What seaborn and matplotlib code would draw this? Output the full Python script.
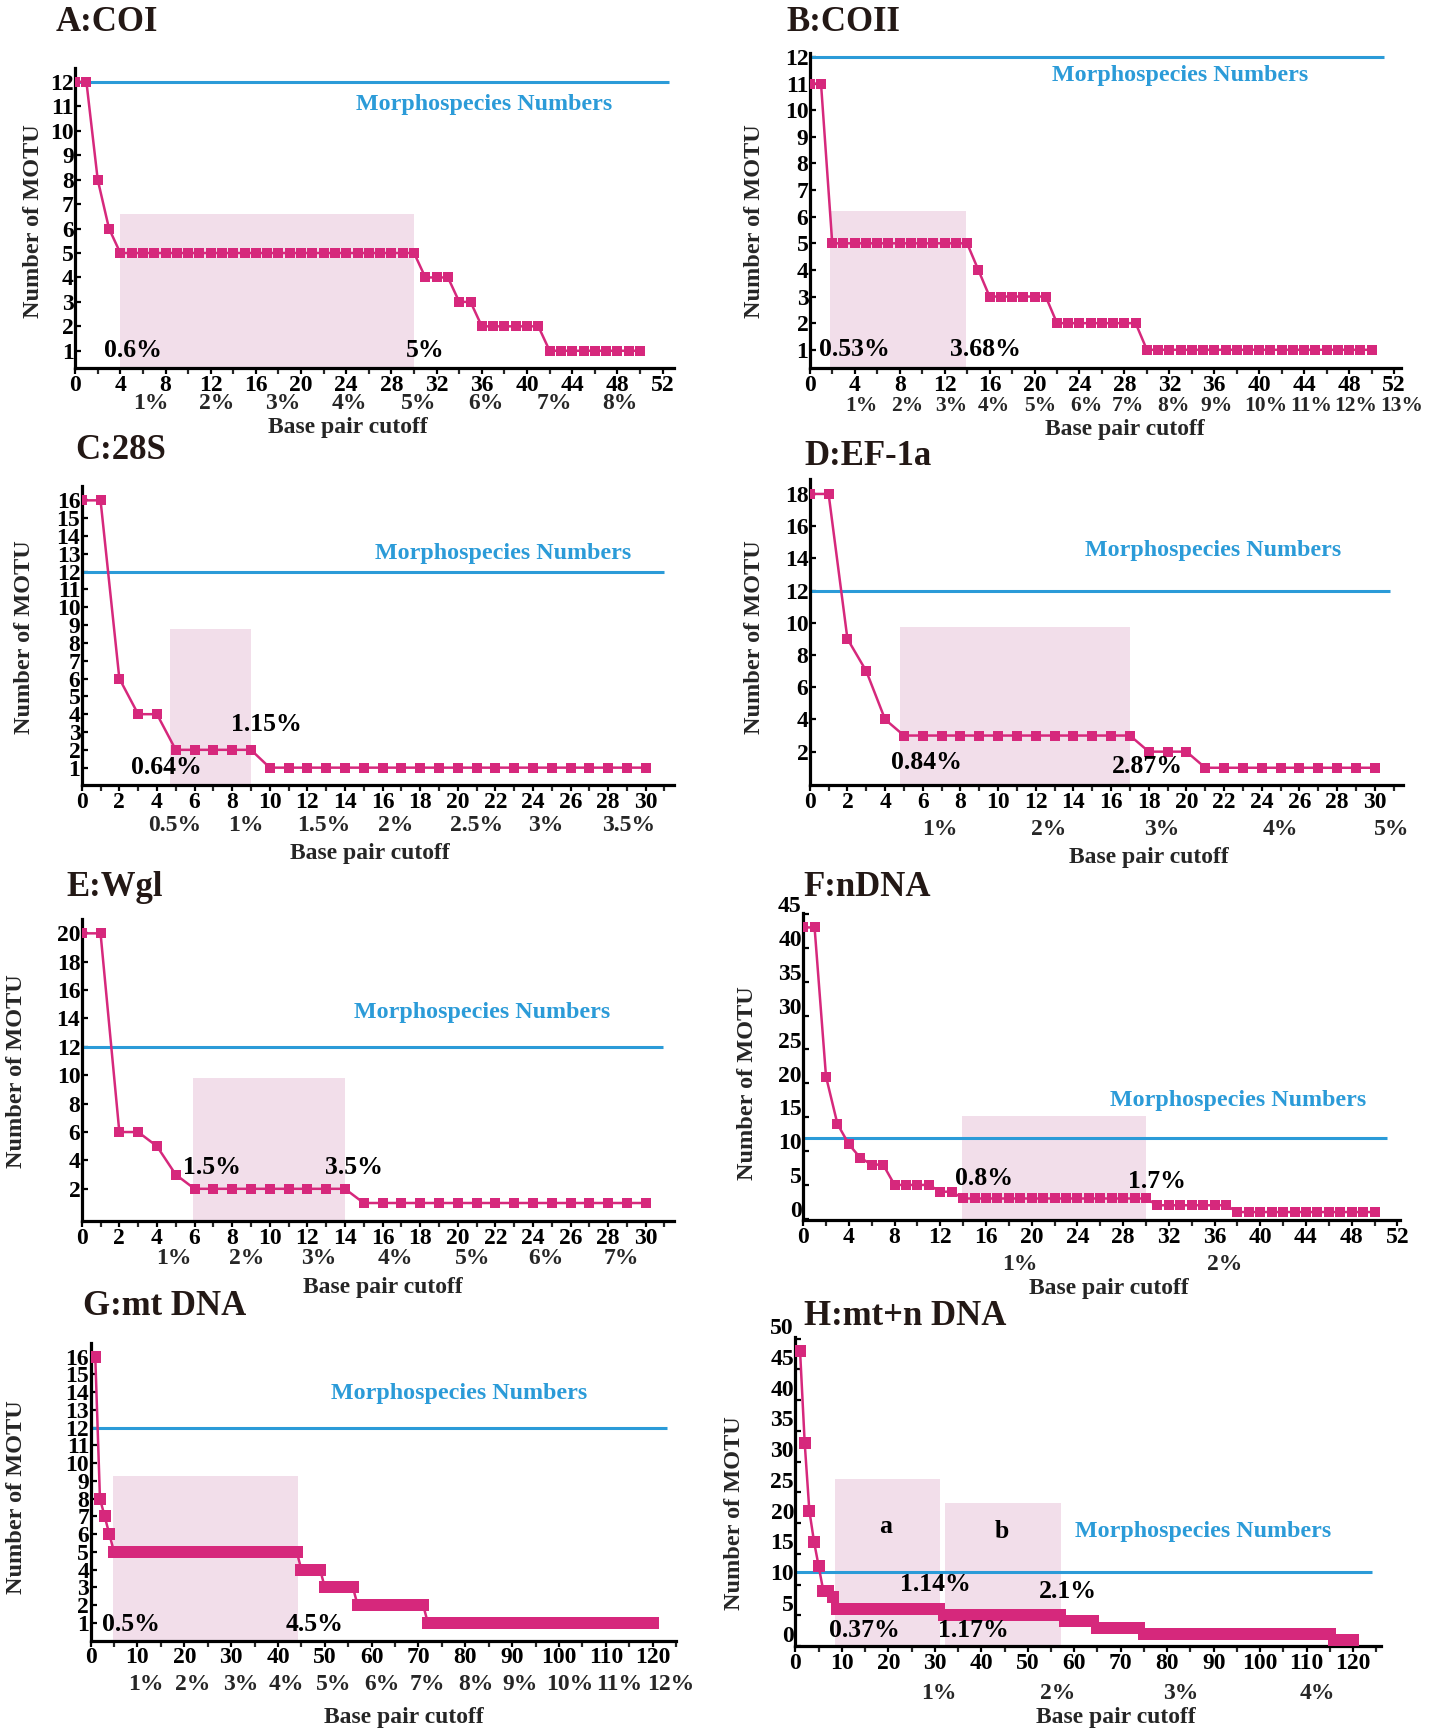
import matplotlib
matplotlib.use("Agg")
import matplotlib.pyplot as plt
import seaborn as sns
import pandas as pd
from matplotlib.transforms import offset_copy, ScaledTranslation
from matplotlib.ticker import MultipleLocator, FixedLocator

# ---------------- data ----------------
cutoff_50 = list(range(51))
cutoff_30 = list(range(31))
cutoff_120 = list(range(121))

motu_A = [12, 12, 8, 6,
          5, 5, 5, 5, 5, 5, 5, 5, 5, 5, 5, 5, 5, 5, 5, 5, 5, 5, 5, 5, 5, 5, 5, 5, 5, 5, 5,
          4, 4, 4, 3, 3, 2, 2, 2, 2, 2, 2, 1, 1, 1, 1, 1, 1, 1, 1, 1]
motu_B = [11, 11, 5, 5, 5, 5, 5, 5, 5, 5, 5, 5, 5, 5, 5, 4, 3, 3, 3, 3, 3, 3,
          2, 2, 2, 2, 2, 2, 2, 2,
          1, 1, 1, 1, 1, 1, 1, 1, 1, 1, 1, 1, 1, 1, 1, 1, 1, 1, 1, 1, 1]
motu_C = [16, 16, 6, 4, 4, 2, 2, 2, 2, 2,
          1, 1, 1, 1, 1, 1, 1, 1, 1, 1, 1, 1, 1, 1, 1, 1, 1, 1, 1, 1, 1]
motu_D = [18, 18, 9, 7, 4, 3, 3, 3, 3, 3, 3, 3, 3, 3, 3, 3, 3, 3, 2, 2, 2,
          1, 1, 1, 1, 1, 1, 1, 1, 1, 1]
motu_E = [20, 20, 6, 6, 5, 3, 2, 2, 2, 2, 2, 2, 2, 2, 2,
          1, 1, 1, 1, 1, 1, 1, 1, 1, 1, 1, 1, 1, 1, 1, 1]
motu_F = [43, 43, 21, 14, 11, 9, 8, 8, 5, 5, 5, 5, 4, 4,
          3, 3, 3, 3, 3, 3, 3, 3, 3, 3, 3, 3, 3, 3, 3, 3, 3,
          2, 2, 2, 2, 2, 2, 2,
          1, 1, 1, 1, 1, 1, 1, 1, 1, 1, 1, 1, 1]
motu_G = [16, 16, 8, 7, 6,
          5, 5, 5, 5, 5, 5, 5, 5, 5, 5, 5, 5, 5, 5, 5, 5, 5, 5, 5, 5,
          5, 5, 5, 5, 5, 5, 5, 5, 5, 5, 5, 5, 5, 5, 5, 5, 5, 5, 5, 5,
          4, 4, 4, 4, 4, 3, 3, 3, 3, 3, 3, 3,
          2, 2, 2, 2, 2, 2, 2, 2, 2, 2, 2, 2, 2, 2, 2,
          1, 1, 1, 1, 1, 1, 1, 1, 1, 1, 1, 1, 1, 1, 1, 1, 1, 1, 1, 1, 1, 1, 1, 1, 1,
          1, 1, 1, 1, 1, 1, 1, 1, 1, 1, 1, 1, 1, 1, 1, 1, 1, 1, 1, 1, 1, 1, 1, 1]
motu_H = [48, 48, 33, 22, 17, 13, 9, 9, 8,
          6, 6, 6, 6, 6, 6, 6, 6, 6, 6, 6, 6, 6, 6, 6, 6, 6, 6, 6, 6, 6, 6, 6,
          5, 5, 5, 5, 5, 5, 5, 5, 5, 5, 5, 5, 5, 5, 5, 5, 5, 5, 5, 5, 5, 5, 5, 5, 5, 5,
          4, 4, 4, 4, 4, 4, 4, 3, 3, 3, 3, 3, 3, 3, 3, 3, 3,
          2, 2, 2, 2, 2, 2, 2, 2, 2, 2, 2, 2, 2, 2, 2, 2, 2, 2, 2, 2, 2,
          2, 2, 2, 2, 2, 2, 2, 2, 2, 2, 2, 2, 2, 2, 2, 2, 2, 2, 2, 2,
          1, 1, 1, 1, 1]

morphospecies = 12

titles = ["A:COI", "B:COII", "C:28S", "D:EF-1a", "E:Wgl", "F:nDNA", "G:mt DNA", "H:mt+n DNA"]

pct_labels_A = ["1%", "2%", "3%", "4%", "5%", "6%", "7%", "8%"]
pct_pos_A = [6.7, 12.5, 18.4, 24.3, 30.4, 36.4, 42.4, 48.2]
pct_labels_B = ["1%", "2%", "3%", "4%", "5%", "6%", "7%", "8%", "9%", "10%", "11%", "12%", "13%"]
pct_pos_B = [4.6, 8.7, 12.6, 16.4, 20.5, 24.6, 28.3, 32.4, 36.2, 40.6, 44.6, 48.6, 52.7]
pct_labels_C = ["0.5%", "1%", "1.5%", "2%", "2.5%", "3%", "3.5%"]
pct_pos_C = [4.95, 8.75, 12.9, 16.7, 21.0, 24.7, 29.1]
pct_labels_D = ["1%", "2%", "3%", "4%", "5%"]
pct_pos_D = [6.9, 12.7, 18.7, 25.0, 30.9]
pct_labels_E = ["1%", "2%", "3%", "4%", "5%", "6%", "7%"]
pct_pos_E = [4.9, 8.8, 12.6, 16.7, 20.8, 24.7, 28.7]
pct_labels_F = ["1%", "2%"]
pct_pos_F = [19.0, 36.9]
pct_labels_G = ["1%", "2%", "3%", "4%", "5%", "6%", "7%", "8%", "9%", "10%", "11%", "12%"]
pct_pos_G = [11.7, 21.8, 32.0, 41.8, 51.9, 62.3, 71.9, 82.2, 91.6, 102.2, 112.8, 123.9]
pct_labels_H = ["1%", "2%", "3%", "4%"]
pct_pos_H = [30.9, 56.4, 82.9, 112.4]

# shaded ranges: (start, end, top)
shade_A = [(4.0, 30.0, 6.6)]
shade_B = [(1.8, 13.9, 6.2)]
shade_C = [(4.7, 9.0, 8.8)]
shade_D = [(4.8, 17.0, 9.75)]
shade_E = [(5.9, 14.0, 9.8)]
shade_F = [(13.9, 30.0, 15.2)]
shade_G = [(4.7, 44.2, 9.25)]
shade_H = [(8.6, 31.2, 27.1), (32.2, 57.1, 23.2)]

# annotations: (text, x, y)
notes_A = [("0.6%", 5.1, 1.0), ("5%", 31.0, 1.0)]
notes_B = [("0.53%", 4.0, 1.0), ("3.68%", 15.6, 1.0)]
notes_C = [("0.64%", 4.5, 1.0), ("1.15%", 9.8, 3.4)]
notes_D = [("0.84%", 6.2, 1.3), ("2.87%", 17.9, 1.05)]
notes_E = [("1.5%", 6.9, 3.5), ("3.5%", 14.5, 3.5)]
notes_F = [("0.8%", 15.8, 5.9), ("1.7%", 31.0, 5.5)]
notes_G = [("0.5%", 8.7, 0.9), ("4.5%", 47.8, 0.9)]
notes_H = [("0.37%", 14.9, 2.5), ("1.17%", 38.4, 2.5), ("1.14%", 30.2, 10.0),
           ("2.1%", 58.7, 8.9), ("a", 19.5, 19.5), ("b", 44.5, 18.7)]

# ---------------- style ----------------
sns.set_theme(style="ticks")
plt.rcParams["font.family"] = ["Liberation Serif", "DejaVu Serif"]
plt.rcParams["font.weight"] = "bold"

PINK = "#D6287C"
BLUE = "#2B9BD8"
SHADE = "#F2DEEA"
DARK = "#231815"

W, H = 1445, 1732
fig = plt.figure(figsize=(W / 100, H / 100), dpi=100)
fig.patch.set_facecolor("white")

S = 1445 / 1308.0  # shrunk->full

TICK_FS = 17
panels = [
    dict(x=cutoff_50, y=motu_A, box=(68, 610, 333, 62), xlim=(0, 53), ylim=(0.3, 12.55),
         xmaj=4, xmin=2, yt=list(range(1, 13)), morph_end=52.6, morph_txt=(36.2, 11.08),
         pct=(pct_pos_A, pct_labels_A), pct_dy=26, shade=shade_A, notes=notes_A,
         title=(50, 20), ylab=(30, 200), xlab=(315, 387), ms=6.5, ylift=0, pct_fs=TICK_FS),
    dict(x=cutoff_50, y=motu_B, box=(733, 1268, 333, 48), xlim=(0, 52.6), ylim=(0.32, 12.15),
         xmaj=4, xmin=2, yt=list(range(1, 13)), morph_end=51.1, morph_txt=(33.0, 11.3),
         pct=(pct_pos_B, pct_labels_B), pct_dy=27.5, shade=shade_B, notes=notes_B,
         title=(712, 20), ylab=(683, 200), xlab=(1018, 389), ms=6.5, ylift=0, pct_fs=15.5),
    dict(x=cutoff_30, y=motu_C, box=(74, 610, 711, 440), xlim=(0, 31.5), ylim=(0, 16.8),
         xmaj=2, xmin=1, yt=list(range(1, 17)), morph_end=30.95, morph_txt=(22.4, 13.0),
         pct=(pct_pos_C, pct_labels_C), pct_dy=29, shade=shade_C, notes=notes_C,
         title=(68, 408), ylab=(22, 577), xlab=(335, 773), ms=6.5, ylift=0, pct_fs=TICK_FS),
    dict(x=cutoff_30, y=motu_D, box=(733, 1270, 711, 434), xlim=(0, 31.5), ylim=(-0.1, 18.9),
         xmaj=2, xmin=1, yt=list(range(2, 19, 2)), morph_end=30.8, morph_txt=(21.4, 14.5),
         pct=(pct_pos_D, pct_labels_D), pct_dy=32, shade=shade_D, notes=notes_D,
         title=(728, 413), ylab=(683, 577), xlab=(1040, 776), ms=6.5, ylift=0, pct_fs=TICK_FS),
    dict(x=cutoff_30, y=motu_E, box=(74, 610, 1105, 832), xlim=(0, 31.5), ylim=(-0.25, 21),
         xmaj=2, xmin=1, yt=list(range(2, 21, 2)), morph_end=30.9, morph_txt=(21.3, 14.4),
         pct=(pct_pos_E, pct_labels_E), pct_dy=27.5, shade=shade_E, notes=notes_E,
         title=(60, 803), ylab=(15, 970), xlab=(347, 1165), ms=6.5, ylift=0, pct_fs=TICK_FS),
    dict(x=cutoff_50, y=motu_F, box=(727, 1267, 1104, 826), xlim=(0, 52.2), ylim=(-0.12, 45.2),
         xmaj=4, xmin=2, yt=list(range(0, 46, 5)), morph_end=51.1, morph_txt=(38.1, 17.4),
         pct=(pct_pos_F, pct_labels_F), pct_dy=32, shade=shade_F, notes=notes_F,
         title=(727, 803), ylab=(677, 980), xlab=(1004, 1166), ms=6.5, ylift=7, pct_fs=TICK_FS),
    dict(x=cutoff_120, y=motu_G, box=(82, 612, 1485, 1216), xlim=(0, 125), ylim=(0, 16.75),
         xmaj=10, xmin=5, yt=list(range(1, 17)), morph_end=123, morph_txt=(78.6, 13.95),
         pct=(pct_pos_G, pct_labels_G), pct_dy=31.5, shade=shade_G, notes=notes_G,
         title=(75, 1183), ylab=(15, 1355), xlab=(366, 1555), ms=9, ylift=0, pct_fs=TICK_FS),
    dict(x=cutoff_120, y=motu_H, box=(720, 1250, 1490, 1210), xlim=(0, 126), ylim=(0, 50.3),
         xmaj=10, xmin=5, yt=list(range(0, 51, 5)), morph_end=124, morph_txt=(87.7, 18.7),
         pct=(pct_pos_H, pct_labels_H), pct_dy=34, shade=shade_H, notes=notes_H,
         title=(728, 1192), ylab=(665, 1370), xlab=(1010, 1555), ms=8.5, ylift=9, pct_fs=TICK_FS),
]

for title, p in zip(titles, panels):
    l, r, b, t = [v * S for v in p["box"]]
    ax = fig.add_axes([l / W, 1 - b / H, (r - l) / W, (b - t) / H])
    ax.set_facecolor("none")
    ax.set_xlim(*p["xlim"])
    ax.set_ylim(*p["ylim"])
    y0 = p["ylim"][0]

    for (xs, xe, top) in p["shade"]:
        ax.fill_between([xs, xe], [y0, y0], [top, top], color=SHADE, lw=0, zorder=0)

    ax.hlines(morphospecies, 0, p["morph_end"], color=BLUE, lw=2.2, zorder=2)
    ax.text(p["morph_txt"][0], p["morph_txt"][1], "Morphospecies Numbers", color=BLUE,
            fontsize=17.3, fontweight="bold", ha="center", va="center", zorder=4)

    df = pd.DataFrame({"cutoff": p["x"], "motu": p["y"]})
    sns.lineplot(data=df, x="cutoff", y="motu", ax=ax, color=PINK, marker="s",
                 markersize=p["ms"], markeredgewidth=0, linewidth=1.8,
                 estimator=None, sort=False, zorder=3)
    ax.set_xlabel("")
    ax.set_ylabel("")

    for (txt, xx, yy) in p["notes"]:
        ax.text(xx, yy, txt, fontsize=18.5, fontweight="bold", color="black",
                ha="center", va="center", zorder=5)

    for side in ("top", "right"):
        ax.spines[side].set_visible(False)
    for side in ("left", "bottom"):
        ax.spines[side].set_linewidth(2.3)
        ax.spines[side].set_color("black")

    ax.xaxis.set_major_locator(MultipleLocator(p["xmaj"]))
    ax.xaxis.set_minor_locator(MultipleLocator(p["xmin"]))
    ax.yaxis.set_major_locator(FixedLocator(p["yt"]))
    ax.tick_params(axis="x", which="major", direction="out", length=4, width=1.6,
                   pad=1, labelsize=TICK_FS, colors="black")
    ax.tick_params(axis="x", which="minor", direction="out", length=4, width=1.6)
    ax.tick_params(axis="y", which="major", direction="in", length=4, width=1.6,
                   pad=1, labelsize=TICK_FS, colors="black")
    for lab in ax.get_xticklabels() + ax.get_yticklabels():
        lab.set_fontweight("bold")
    if p["ylift"]:
        lift = ScaledTranslation(0, p["ylift"] / 72.0, fig.dpi_scale_trans)
        for lab in ax.get_yticklabels():
            lab.set_transform(lab.get_transform() + lift)

    trans = offset_copy(ax.get_xaxis_transform(), fig=fig, y=-p["pct_dy"], units="points")
    pos, labs = p["pct"]
    for xx, lab in zip(pos, labs):
        ax.text(xx, 0, lab, transform=trans, ha="center", va="center",
                fontsize=p["pct_fs"], fontweight="bold", clip_on=False)

    tx, ty = p["title"]
    fig.text(tx * S / W, 1 - ty * S / H, title, fontsize=25, fontweight="bold",
             color=DARK, ha="left", va="center")
    yx, yy = p["ylab"]
    fig.text(yx * S / W, 1 - yy * S / H, "Number of MOTU", fontsize=17.5, fontweight="bold",
             rotation=90, ha="center", va="center")
    xx, xy = p["xlab"]
    fig.text(xx * S / W, 1 - xy * S / H, "Base pair cutoff", fontsize=17, fontweight="bold",
             ha="center", va="center")

fig.savefig("out.png", dpi=100, facecolor="white")
